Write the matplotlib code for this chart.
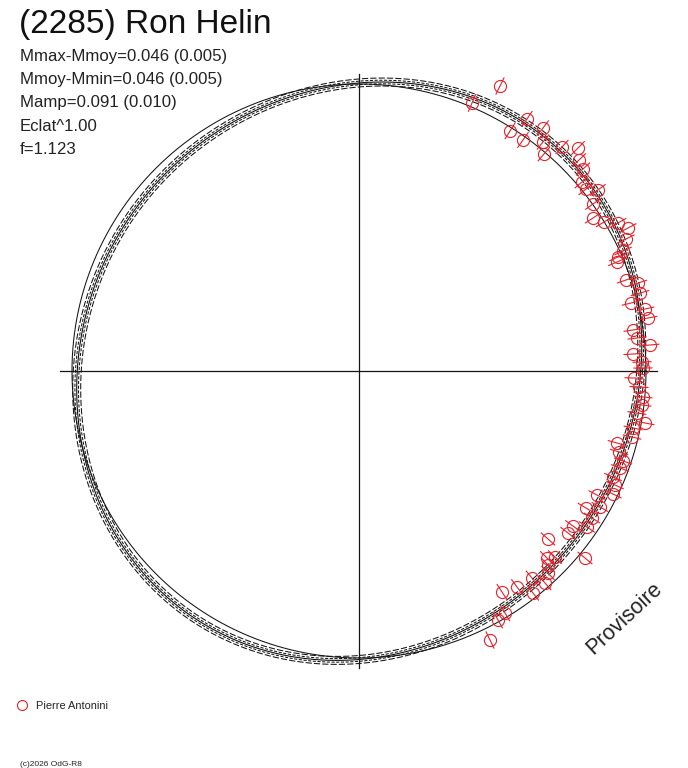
import numpy as np
import matplotlib.pyplot as plt

plt.rcParams['font.family'] = ['Liberation Sans', 'DejaVu Sans']

title = "(2285) Ron Helin"
info_lines = [
    "Mmax-Mmoy=0.046 (0.005)",
    "Mmoy-Mmin=0.046 (0.005)",
    "Mamp=0.091 (0.010)",
    "Eclat^1.00",
    "f=1.123",
]
observer = "Pierre Antonini"
credit = "(c)2026 OdG-R8"
stamp = "Provisoire"

# polar lightcurve, radius in plot units (pixels from the centre)
# Fourier fit: r0 + sum(a_n cos(n t) + b_n sin(n t))
fit_r0 = 285.6
fit_cos = [0.0, -3.25, 0.0, -0.58]
fit_sin = [0.6, 10.82, 0.83, -0.43]
band_offsets = [-4.0, -1.8, 1.8, 4.0]
mean_radius = 287.0
axis_half = 298

# observations (x, y from the centre)
obs_x = [141, 113, 168, 151, 184, 164, 184, 185, 203, 219, 220, 224, 223, 227,
         239, 234, 234, 245, 259, 269, 267, 264, 259, 258, 267, 279, 281, 272,
         286, 289, 274, 278, 291, 274, 283, 284, 275, 280, 284, 283, 278, 286,
         274, 273, 258, 260, 264, 261, 254, 256, 238, 254, 241, 227, 233, 228,
         214, 209, 189, 226, 188, 196, 189, 189, 173, 158, 186, 143, 174, 146,
         139, 131]
obs_y = [285, 268, 252, 240, 243, 231, 229, 217, 224, 223, 211, 202, 189, 182,
         181, 167, 153, 149, 148, 143, 132, 120, 114, 109, 91, 88, 78, 68,
         62, 53, 41, 33, 26, 17, 9, 3, -7, -16, -26, -34, -42, -52,
         -57, -66, -72, -81, -90, -97, -106, -114, -124, -123, -136, -137, -147, -156,
         -155, -162, -168, -187, -187, -186, -194, -202, -207, -216, -212, -221, -222, -242,
         -249, -269]
err_half = 9

red = '#e8202a'
ink = '#141414'

fig = plt.figure(figsize=(6.88, 7.68), dpi=100)
ax = fig.add_axes([0, 0, 1, 1])
ax.set_xlim(-359, 329)
ax.set_ylim(-397, 371)
ax.axis('off')


def px(x, y):
    # image pixel -> plot coordinates
    return x - 359, 371 - y


# axes cross
ax.plot([-axis_half - 1, axis_half], [0, 0], color=ink, lw=0.9)
ax.plot([0, 0], [-axis_half + 1, axis_half - 1], color=ink, lw=0.9)

# fitted curve and its band
t = np.linspace(0, 2 * np.pi, 1441)
r_fit = np.full_like(t, fit_r0)
for n, (a, b) in enumerate(zip(fit_cos, fit_sin), start=1):
    r_fit += a * np.cos(n * t) + b * np.sin(n * t)

ax.plot(r_fit * np.cos(t), r_fit * np.sin(t), color=ink, lw=0.8)
band_styles = [(0, (6, 2)), (0, (3, 1.5)), (0, (3, 1.5)), (0, (6, 2))]
for off, ls in zip(band_offsets, band_styles):
    rr = r_fit + off
    ax.plot(rr * np.cos(t), rr * np.sin(t), color=ink, lw=0.75, linestyle=ls)

# mean magnitude circle
ax.plot(mean_radius * np.cos(t), mean_radius * np.sin(t), color=ink, lw=0.75)

# observations with radial error bars
ox = np.array(obs_x, dtype=float)
oy = np.array(obs_y, dtype=float)
ang = np.arctan2(oy, ox)
for x, y, a in zip(ox, oy, ang):
    ax.plot([x - err_half * np.cos(a), x + err_half * np.cos(a)],
            [y - err_half * np.sin(a), y + err_half * np.sin(a)],
            color=red, lw=0.8)
ax.plot(ox, oy, 'o', mfc='none', mec=red, ms=8.7, mew=0.8)

# texts
ax.text(*px(19, 33), title, fontsize=24, va='baseline', ha='left', color='#111')
for i, line in enumerate(info_lines):
    ax.text(*px(20, 60.5 + 23.4 * i), line, fontsize=12.1, va='baseline',
            ha='left', color='#222')

ax.text(*px(624, 618), stamp, fontsize=15.5, rotation=43, ha='center',
        va='center', rotation_mode='anchor', color='#222')

ax.plot(*px(22.3, 704.5), 'o', mfc='none', mec=red, ms=7.2, mew=0.8)
ax.text(*px(36, 709), observer, fontsize=7.9, va='baseline', ha='left', color='#222')
ax.text(*px(20, 766), credit, fontsize=6, va='baseline', ha='left', color='#222')

fig.savefig('out.png', dpi=100)
